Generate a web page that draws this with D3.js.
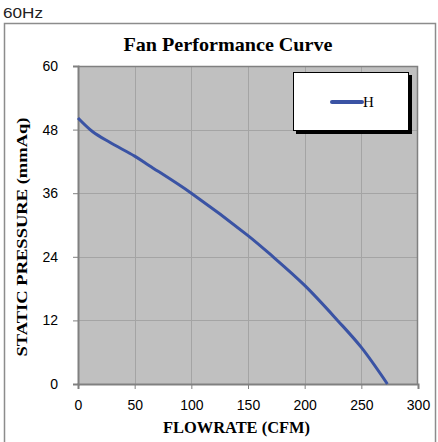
<!DOCTYPE html>
<html><head><meta charset="utf-8">
<script src="https://cdn.jsdelivr.net/npm/d3@7"></script>
<style>body{margin:0;background:#fff}svg{display:block}</style>
</head><body>
<script>
const flowrate = [0, 13, 28, 50, 63, 100, 150, 171, 200, 229, 250, 273];
const pressure = [50.2, 47.6, 45.6, 43.0, 41.2, 36.0, 28.0, 24.2, 18.6, 12.0, 6.9, 0];
const xTicks = [0, 50, 100, 150, 200, 250, 300];
const yTicks = [0, 12, 24, 36, 48, 60];
const seriesName = "H";
const title = "Fan Performance Curve";
const xTitle = "FLOWRATE (CFM)";
const yTitle = "STATIC PRESSURE (mmAq)";
const topLabel = "60Hz";

const W = 438, H = 442;
const SANS = "Liberation Sans, Arial, sans-serif";
const SERIF = "Liberation Serif, Times New Roman, serif";
const svg = d3.select("body").append("svg").attr("width", W).attr("height", H);
const m = {l: 78, r: 418, t: 66, b: 384};
const x = d3.scaleLinear().domain([0, 300]).range([m.l, m.r]);
const y = d3.scaleLinear().domain([0, 60]).range([m.b, m.t]);

svg.append("text").attr("x", 3).attr("y", 18).attr("font-family", SANS)
  .attr("font-size", 14).attr("textLength", 40).attr("lengthAdjust", "spacingAndGlyphs")
  .attr("fill", "#222").text(topLabel);

// outer frame
svg.append("rect").attr("x", 4.5).attr("y", 23.5).attr("width", 431).attr("height", 430)
  .attr("fill", "#fff").attr("stroke", "#8c8c8c").attr("stroke-width", 1.5);

svg.append("text").attr("x", 228).attr("y", 51).attr("text-anchor", "middle")
  .attr("font-family", SERIF).attr("font-weight", "bold")
  .attr("font-size", 19).attr("textLength", 209).attr("lengthAdjust", "spacingAndGlyphs").text(title);

// plot area
svg.append("rect").attr("x", m.l).attr("y", m.t).attr("width", m.r - m.l).attr("height", m.b - m.t)
  .attr("fill", "#c0c0c0");

// gridlines
const g = svg.append("g").attr("stroke", "#a4a4a4").attr("stroke-width", 1);
xTicks.slice(1, -1).forEach(v => g.append("line").attr("x1", Math.round(x(v)) + 0.5).attr("x2", Math.round(x(v)) + 0.5)
  .attr("y1", m.t).attr("y2", m.b));
yTicks.slice(1, -1).forEach(v => g.append("line").attr("x1", m.l).attr("x2", m.r)
  .attr("y1", Math.round(y(v)) + 0.5).attr("y2", Math.round(y(v)) + 0.5));

// plot border top/right
svg.append("path").attr("d", `M${m.l},${m.t + 0.5}H${m.r - 0.5}V${m.b}`).attr("fill", "none")
  .attr("stroke", "#808080").attr("stroke-width", 1.5);

// axes
const xAxis = svg.append("g").attr("transform", `translate(0,${m.b})`)
  .call(d3.axisBottom(x).tickValues(xTicks).tickSize(5).tickPadding(11));
const yAxis = svg.append("g").attr("transform", `translate(${m.l},0)`)
  .call(d3.axisLeft(y).tickValues(yTicks).tickSize(5).tickPadding(15));
[xAxis, yAxis].forEach(a => {
  a.select(".domain").attr("stroke", "#808080").attr("stroke-width", 2);
  a.selectAll(".tick line").attr("stroke", "#808080");
  a.selectAll("text").attr("font-family", SANS).attr("font-size", 14).attr("fill", "#000");
});

// curve
const pts = flowrate.map((f, i) => [f, pressure[i]]);
svg.append("path").datum(pts)
  .attr("d", d3.line().x(d => x(d[0])).y(d => y(d[1])).curve(d3.curveCatmullRom.alpha(0.5)))
  .attr("fill", "none").attr("stroke", "#3a53a4").attr("stroke-width", 3);

// axis titles
svg.append("text").attr("x", 236.5).attr("y", 433).attr("text-anchor", "middle")
  .attr("font-family", SERIF).attr("font-weight", "bold")
  .attr("font-size", 16).attr("textLength", 147).attr("lengthAdjust", "spacingAndGlyphs").text(xTitle);
svg.append("text").attr("transform", "translate(27,237) rotate(-90)").attr("text-anchor", "middle")
  .attr("font-family", SERIF).attr("font-weight", "bold")
  .attr("font-size", 15).attr("textLength", 239).attr("lengthAdjust", "spacingAndGlyphs").text(yTitle);

// legend
svg.append("rect").attr("x", 296).attr("y", 75).attr("width", 116).attr("height", 59).attr("fill", "#000");
svg.append("rect").attr("x", 293.5).attr("y", 72.5).attr("width", 115).attr("height", 58)
  .attr("fill", "#fff").attr("stroke", "#000").attr("stroke-width", 1);
svg.append("line").attr("x1", 332).attr("x2", 362).attr("y1", 102).attr("y2", 102)
  .attr("stroke", "#3a53a4").attr("stroke-width", 4).attr("stroke-linecap", "round");
svg.append("text").attr("x", 363).attr("y", 107).attr("font-family", SERIF)
  .attr("font-size", 15).text(seriesName);
</script>
</body></html>
